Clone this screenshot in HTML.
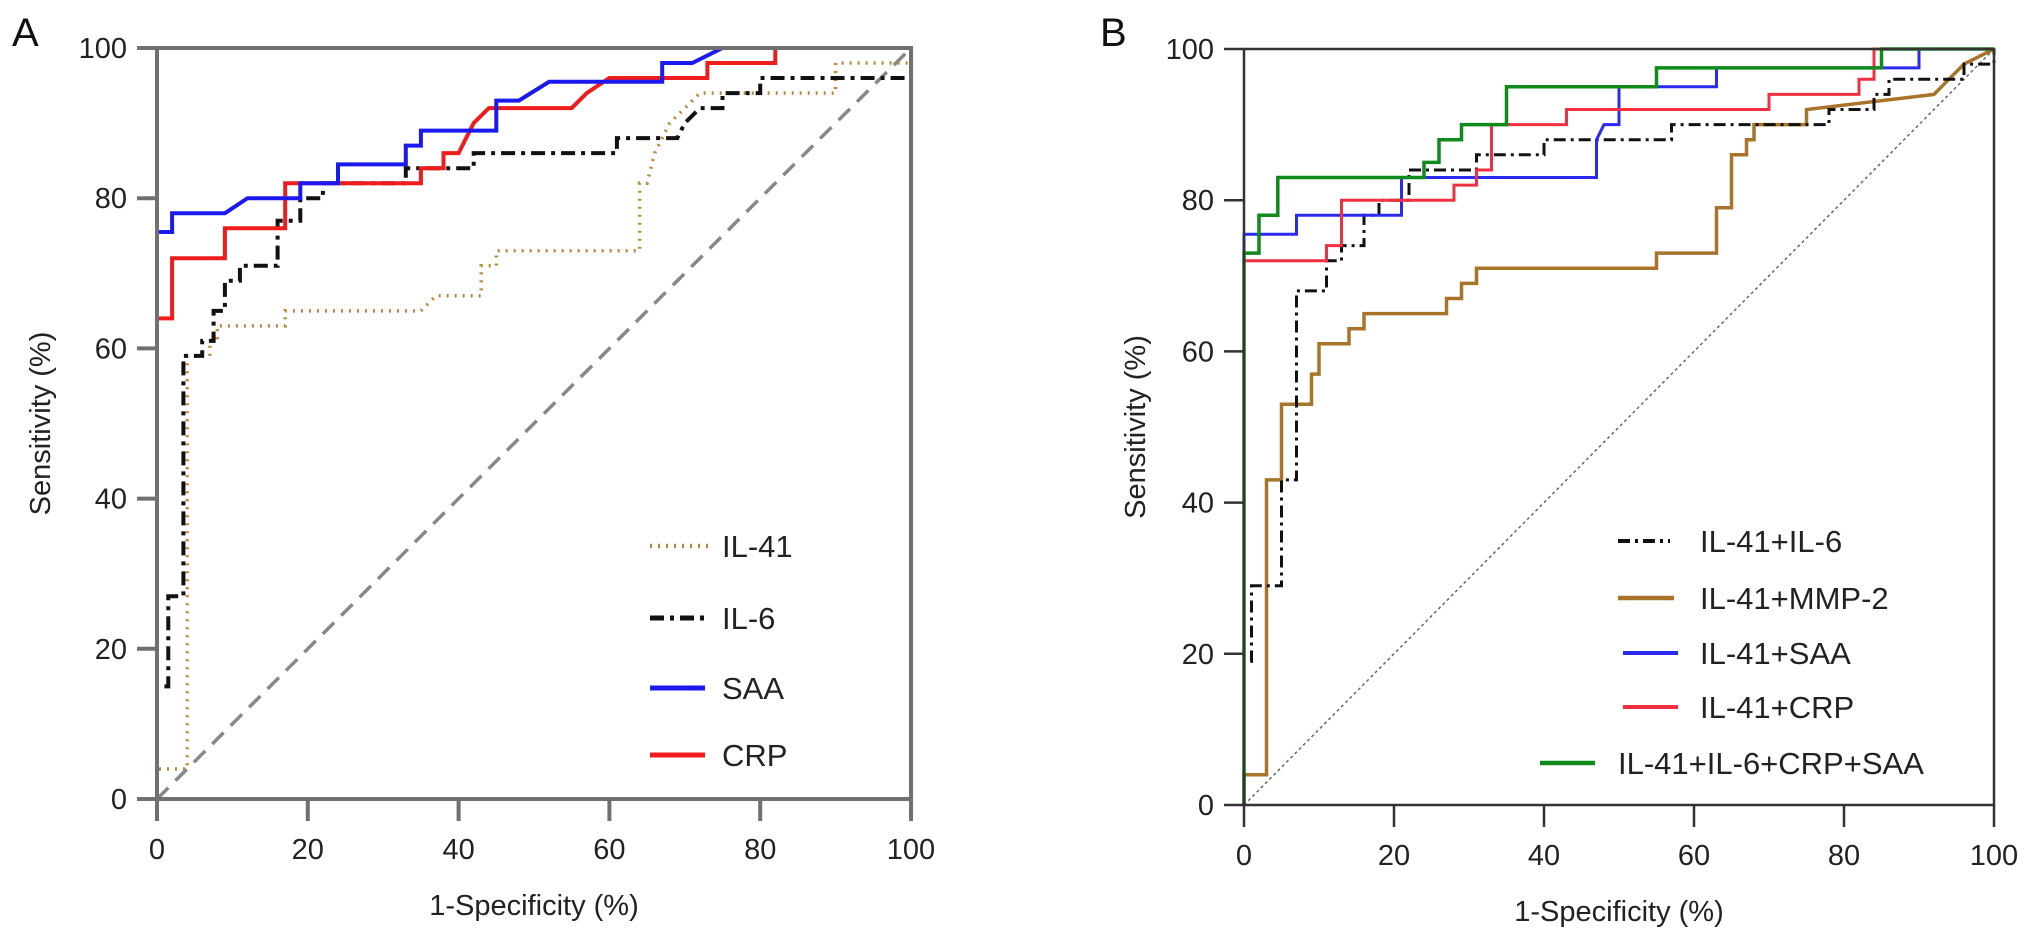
<!DOCTYPE html>
<html><head><meta charset="utf-8"><style>
html,body{margin:0;padding:0;background:#fff}
svg{display:block;font-family:"Liberation Sans",Arial,sans-serif}
</style></head><body>
<svg id="chart" width="2032" height="936" viewBox="0 0 2032 936"></svg>
<script>
// Panel A data: [1-specificity, sensitivity] pairs
const saaA = [[0,0],[0,75.5],[2,75.5],[2,78],[9,78],[12,80],[19,80],[19,82],[24,82],[24,84.5],[33,84.5],[33,87],[35,87],[35,89],[45,89],[45,93],[48,93],[52,95.5],[67,95.5],[67,98],[71,98],[75,100],[100,100]];
const crpA = [[0,0],[0,64],[2,64],[2,72],[9,72],[9,76],[17,76],[17,82],[35,82],[35,84],[38,84],[38,86],[40,86],[41,88],[42,90],[44,92],[55,92],[57,94],[60,96],[73,96],[73,98],[82,98],[82,100],[100,100]];
const il6A = [[0,0],[0,15],[1.5,15],[1.5,27],[3.5,27],[3.5,59],[6,59],[6,61],[7.5,61],[7.5,65],[9,65],[9,69],[11,69],[11,71],[16,71],[16,77],[19,77],[19,80],[22,80],[22,82],[33,82],[33,84],[42,84],[42,86],[61,86],[61,88],[69,88],[70,90],[72,92],[75,92],[75,94],[80,94],[80,96],[100,96],[100,100]];
const il41A = [[0,0],[0,4],[4,4],[4,59],[7,59],[7,61],[8,61],[8,63],[17,63],[17,65],[35,65],[37,67],[43,67],[43,71],[45,71],[45,73],[64,73],[64,82],[65,82],[66,86],[67,88],[68,90],[70,92],[72,94],[90,94],[90,98],[100,98],[100,100]];
// Panel B data
const greenB = [[0,0],[0,73],[2,73],[2,78],[4.5,78],[4.5,83],[24,83],[24,85],[26,85],[26,88],[29,88],[29,90],[35,90],[35,95],[55,95],[55,97.5],[85,97.5],[85,100],[100,100]];
const saaB = [[0,0],[0,75.5],[7,75.5],[7,78],[21,78],[21,83],[47,83],[47,88],[48,90],[50,90],[50,95],[63,95],[63,97.5],[90,97.5],[90,100],[100,100]];
const crpB = [[0,0],[0,72],[11,72],[11,74],[13,74],[13,80],[28,80],[28,82],[31,82],[31,84],[33,84],[33,90],[43,90],[43,92],[70,92],[70,94],[82,94],[82,96],[84,96],[84,100],[100,100]];
const il6B = [[0,0],[0,19],[1,19],[1,29],[5,29],[5,43],[7,43],[7,68],[11,68],[11,72],[13,72],[13,74],[16,74],[16,78],[18,78],[18,80],[22,80],[22,84],[31,84],[31,86],[40,86],[40,88],[57,88],[57,90],[78,90],[78,92],[84,92],[84,94],[86,94],[86,96],[96,96],[96,98],[100,98],[100,100]];
const mmpB = [[0,0],[0,4],[3,4],[3,43],[5,43],[5,53],[9,53],[9,57],[10,57],[10,61],[14,61],[14,63],[16,63],[16,65],[27,65],[27,67],[29,67],[29,69],[31,69],[31,71],[55,71],[55,73],[63,73],[63,79],[65,79],[65,86],[67,86],[67,88],[68,88],[68,90],[75,90],[75,92],[92,94],[94,96],[96,98],[100,100]];
const ticks = [0,20,40,60,80,100];
const tickLabels = ["0","20","40","60","80","100"];
const legendA = ["IL-41","IL-6","SAA","CRP"];
const legendB = ["IL-41+IL-6","IL-41+MMP-2","IL-41+SAA","IL-41+CRP","IL-41+IL-6+CRP+SAA"];

const NS = "http://www.w3.org/2000/svg";
const svg = document.getElementById('chart');
function mk(tag, attrs, parent, name, inter) {
  const e = document.createElementNS(NS, tag);
  for (const k in attrs) e.setAttribute(k, attrs[k]);
  
  
  (parent || svg).appendChild(e);
  return e;
}
function panel(P) {
  const sx = v => P.x0 + (P.x1 - P.x0) * v / 100;
  const sy = v => P.y0 - (P.y0 - P.y1) * v / 100;
  const g = mk('g', {}, svg, P.id + '-panel', false);
  // diagonal
  const dg = mk('line', {x1: sx(0), y1: sy(0), x2: sx(100), y2: sy(100), stroke: P.diagColor, 'stroke-width': P.diagW, 'stroke-dasharray': P.diagDash}, g, 'reference-diagonal', false);
  // series
  P.series.forEach(s => {
    const pts = s.data.map(p => sx(p[0]).toFixed(1) + ',' + sy(p[1]).toFixed(1)).join(' ');
    mk('polyline', {points: pts, fill: 'none', stroke: s.color, 'stroke-width': s.w, 'stroke-dasharray': s.dash || 'none', 'stroke-linejoin': 'miter'}, g, 'series-' + s.key, false);
  });
  // frame
  mk('rect', {x: P.x0, y: P.y1, width: P.x1 - P.x0, height: P.y0 - P.y1, fill: 'none', stroke: P.axisColor, 'stroke-width': P.axisW}, g, 'plot-frame', false);
  // ticks
  ticks.forEach((t, i) => {
    mk('line', {x1: P.x0 - 20, y1: sy(t), x2: P.x0, y2: sy(t), stroke: P.axisColor, 'stroke-width': P.axisW}, g, 'y-tick', false);
    const ty = mk('text', {x: P.x0 - 30, y: sy(t) + 10, 'text-anchor': 'end', 'font-size': 29, fill: '#222'}, g, 'y-tick-label', false);
    ty.textContent = tickLabels[i];
    mk('line', {x1: sx(t), y1: P.y0, x2: sx(t), y2: P.y0 + 22, stroke: P.axisColor, 'stroke-width': P.axisW}, g, 'x-tick', false);
    const tx = mk('text', {x: sx(t), y: P.y0 + 60, 'text-anchor': 'middle', 'font-size': 29, fill: '#222'}, g, 'x-tick-label', false);
    tx.textContent = tickLabels[i];
  });
  const xt = mk('text', {x: (P.x0 + P.x1) / 2, y: P.y0 + 116, 'text-anchor': 'middle', 'font-size': 29, fill: '#222'}, g, 'x-axis-title', false);
  xt.textContent = '1-Specificity (%)';
  const yt = mk('text', {x: 0, y: 0, 'text-anchor': 'middle', 'font-size': 29, fill: '#222', transform: 'translate(' + P.ytx + ',' + ((P.y0 + P.y1) / 2) + ') rotate(-90)'}, g, 'y-axis-title', false);
  yt.textContent = 'Sensitivity (%)';
  const lt = mk('text', {x: P.letterX, y: 46, 'font-size': 40, fill: '#111'}, g, 'panel-letter', false);
  lt.textContent = P.letter;
  // legend
  P.legend.forEach((l, i) => {
    const lg = mk('g', {}, g, 'legend-entry', false);
    mk('line', {x1: l.lx1, y1: l.y, x2: l.lx2, y2: l.y, stroke: l.s.color, 'stroke-width': l.s.w + 1, 'stroke-dasharray': l.s.dash || 'none'}, lg, 'legend-swatch', false);
    const tt = mk('text', {x: l.tx, y: l.y + 11, 'font-size': P.legendFont, fill: '#222'}, lg, 'legend-label', false);
    tt.textContent = l.label;
  });
}
const sA = {
  il41: {key: 'il41', data: il41A, color: '#b8893a', w: 3.5, dash: '2 6'},
  il6: {key: 'il6', data: il6A, color: '#111', w: 4, dash: '14 6 4 6'},
  saa: {key: 'saa', data: saaA, color: '#1a1aee', w: 4},
  crp: {key: 'crp', data: crpA, color: '#ee1c1c', w: 4}
};
panel({
  id: 'a', letter: 'A', letterX: 12, x0: 157, x1: 911, y0: 799, y1: 48, ytx: 50,
  axisColor: '#707070', axisW: 4, diagColor: '#888', diagW: 3.5, diagDash: '16 10',
  series: [sA.il41, sA.il6, sA.crp, sA.saa],
  legendFont: 31,
  legend: [
    {s: sA.il41, label: legendA[0], y: 546, lx1: 650, lx2: 710, tx: 722},
    {s: sA.il6, label: legendA[1], y: 618, lx1: 650, lx2: 710, tx: 722},
    {s: sA.saa, label: legendA[2], y: 688, lx1: 650, lx2: 705, tx: 722},
    {s: sA.crp, label: legendA[3], y: 755, lx1: 650, lx2: 705, tx: 722}
  ]
});
const sB = {
  il6: {key: 'il41-il6', data: il6B, color: '#111', w: 3, dash: '12 5 3 5'},
  mmp: {key: 'il41-mmp2', data: mmpB, color: '#a8742a', w: 3.5},
  saa: {key: 'il41-saa', data: saaB, color: '#2a2af0', w: 3},
  crp: {key: 'il41-crp', data: crpB, color: '#f03040', w: 3},
  grn: {key: 'il41-il6-crp-saa', data: greenB, color: '#118a1c', w: 3.5}
};
panel({
  id: 'b', letter: 'B', letterX: 1100, x0: 1244, x1: 1994, y0: 805, y1: 49, ytx: 1145,
  axisColor: '#333', axisW: 2.5, diagColor: '#666', diagW: 1.5, diagDash: '3 3',
  series: [sB.mmp, sB.il6, sB.saa, sB.crp, sB.grn],
  legendFont: 31,
  legend: [
    {s: sB.il6, label: legendB[0], y: 541, lx1: 1618, lx2: 1670, tx: 1700},
    {s: sB.mmp, label: legendB[1], y: 598, lx1: 1618, lx2: 1674, tx: 1700},
    {s: sB.saa, label: legendB[2], y: 653, lx1: 1623, lx2: 1678, tx: 1700},
    {s: sB.crp, label: legendB[3], y: 707, lx1: 1623, lx2: 1678, tx: 1700},
    {s: sB.grn, label: legendB[4], y: 763, lx1: 1540, lx2: 1595, tx: 1618}
  ]
});
</script>
</body></html>
